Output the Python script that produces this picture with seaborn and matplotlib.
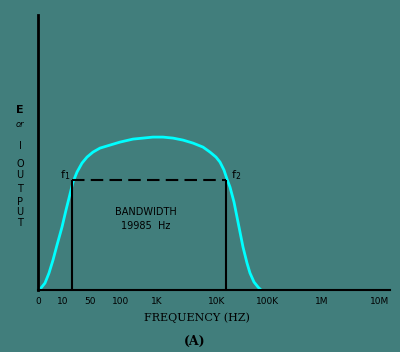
"""Frequency response curve with bandwidth box."""

import matplotlib.pyplot as plt
import pandas as pd
import seaborn as sns

# Axis positions (drawing units along the frequency axis)
tick_pos = [0, 25, 52, 83, 119, 179, 230, 284, 342]
tick_labels = ["0", "10", "50", "100", "1K", "10K", "100K", "1M", "10M"]

# Response curve
curve_x = [0, 3, 7, 11, 15, 19, 24, 28, 32, 35, 39, 44, 49, 55, 62, 72, 82,
           95, 105, 115, 125, 135, 145, 155, 165, 172, 178, 182, 186, 189,
           192, 196, 199, 202, 205, 209, 212, 216, 220, 223]
curve_y = [0, 2, 7, 17, 30, 45, 63, 80, 96, 108, 118, 127, 133, 138, 142,
           145, 148, 151, 152, 153, 153, 152, 150, 147, 143, 138, 133, 128,
           120, 111, 103, 88, 73, 58, 43, 27, 17, 8, 3, 0]

# Bandwidth box
f1_x, f2_x = 34, 188
box_level = 110

BG = "#417e7c"
sns.set_style("white")
plt.rcParams["font.family"] = ["DejaVu Sans"]
plt.rcParams["text.color"] = "black"

fig = plt.figure(figsize=(4, 3.52), dpi=100, facecolor=BG)
ax = fig.add_axes([0.095, 0.176, 0.88, 0.781])
ax.set_facecolor(BG)

df = pd.DataFrame({"x": curve_x, "y": curve_y})
sns.lineplot(df, x="x", y="y", ax=ax, color="#00ffff", linewidth=2, sort=False)

ax.vlines([f1_x, f2_x], 0, box_level, color="black", linewidth=1.5)
ax.hlines(box_level, f1_x, f2_x, color="black", linewidth=1.5,
          linestyles=(0, (6, 3)))

ax.text(f1_x - 12, box_level + 2, "f$_1$", fontsize=8, color="black")
ax.text(f2_x + 5, box_level + 2, "f$_2$", fontsize=8, color="black")
ax.text(108, 71, "BANDWIDTH\n19985  Hz", fontsize=7, color="black",
        ha="center", va="center", linespacing=1.5)

ax.set_xlim(0, 352)
ax.set_ylim(0, 275)
ax.set_xticks(tick_pos)
ax.set_xticklabels(tick_labels, fontsize=6.5, color="black")
ax.set_yticks([])
ax.tick_params(axis="x", length=0, pad=5)
ax.set_xlabel("")
ax.set_ylabel("")

for side in ["top", "right"]:
    ax.spines[side].set_visible(False)
ax.spines["left"].set_linewidth(2)
ax.spines["bottom"].set_linewidth(1.5)
ax.spines["left"].set_color("black")
ax.spines["bottom"].set_color("black")

fig.text(0.4925, 0.097, "FREQUENCY (HZ)", fontsize=8, family="DejaVu Serif",
         ha="center", va="center")

fig.text(0.05, 0.6875, "E", fontsize=8, weight="bold", ha="center", va="center")
fig.text(0.05, 0.645, "or", fontsize=6, style="italic", ha="center", va="center")
letter_y = [0.585, 0.534, 0.503, 0.463, 0.426, 0.398, 0.366]
for ch, yy in zip("IOUTPUT", letter_y):
    fig.text(0.05, yy, ch, fontsize=7, ha="center", va="center")

fig.text(0.4875, 0.031, "(A)", fontsize=9, weight="bold", family="DejaVu Serif",
         ha="center", va="center")

plt.savefig("out.png", dpi=100, facecolor=BG)
